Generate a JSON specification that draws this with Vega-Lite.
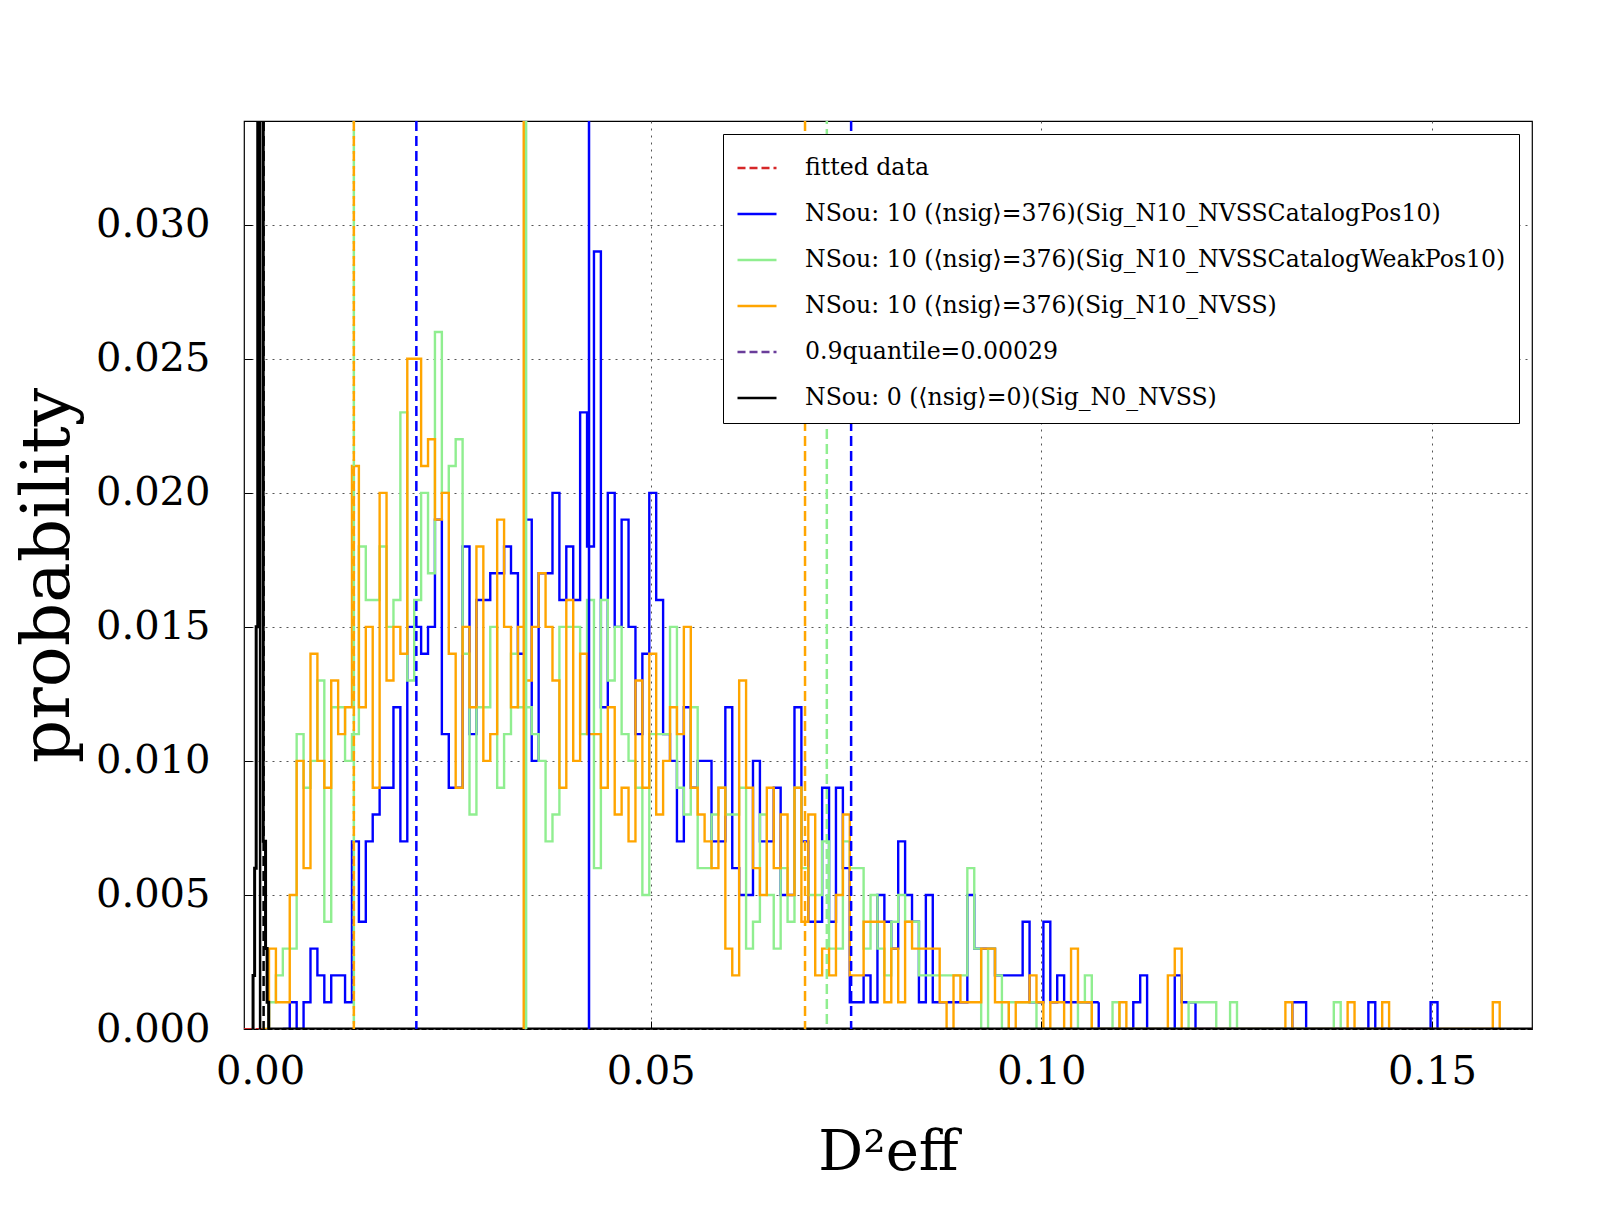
{
"$schema":"https://vega.github.io/schema/vega-lite/v6.json",
"width":1288,"height":908,
"autosize":{"type":"none"},
"padding":{"left":244,"top":121,"right":80,"bottom":183},
"background":"white",
"datasets":{
"hist":[
{"s":"f","x":-0.0021,"y":0},{"s":"f","x":0.1628,"y":0},
{"s":"b","x":0.00291,"y":0},{"s":"b","x":0.003795,"y":0.001},{"s":"b","x":0.00468,"y":0},{"s":"b","x":0.005565,"y":0.001},{"s":"b","x":0.00645,"y":0.003},{"s":"b","x":0.007335,"y":0.002},{"s":"b","x":0.00822,"y":0.001},{"s":"b","x":0.009105,"y":0.002},{"s":"b","x":0.00999,"y":0.002},{"s":"b","x":0.010875,"y":0.001},{"s":"b","x":0.01176,"y":0.007},{"s":"b","x":0.012645,"y":0.004},{"s":"b","x":0.01353,"y":0.007},{"s":"b","x":0.014415,"y":0.008},{"s":"b","x":0.0153,"y":0.009},{"s":"b","x":0.016185,"y":0.009},{"s":"b","x":0.01707,"y":0.012},{"s":"b","x":0.017955,"y":0.007},{"s":"b","x":0.01884,"y":0.015},{"s":"b","x":0.019725,"y":0.015},{"s":"b","x":0.02061,"y":0.014},{"s":"b","x":0.021495,"y":0.015},{"s":"b","x":0.02238,"y":0.019},{"s":"b","x":0.023265,"y":0.011},{"s":"b","x":0.02415,"y":0.009},{"s":"b","x":0.025035,"y":0.009},{"s":"b","x":0.02592,"y":0.018},{"s":"b","x":0.026805,"y":0.011},{"s":"b","x":0.02769,"y":0.016},{"s":"b","x":0.028575,"y":0.016},{"s":"b","x":0.02946,"y":0.017},{"s":"b","x":0.030345,"y":0.017},{"s":"b","x":0.03123,"y":0.018},{"s":"b","x":0.032115,"y":0.017},{"s":"b","x":0.033,"y":0.014},{"s":"b","x":0.033885,"y":0.019},{"s":"b","x":0.03477,"y":0.010},{"s":"b","x":0.035655,"y":0.017},{"s":"b","x":0.03654,"y":0.017},{"s":"b","x":0.037425,"y":0.020},{"s":"b","x":0.03831,"y":0.016},{"s":"b","x":0.039195,"y":0.018},{"s":"b","x":0.04008,"y":0.016},{"s":"b","x":0.040965,"y":0.023},{"s":"b","x":0.04185,"y":0.018},{"s":"b","x":0.042735,"y":0.029},{"s":"b","x":0.04362,"y":0.012},{"s":"b","x":0.044505,"y":0.020},{"s":"b","x":0.04539,"y":0.015},{"s":"b","x":0.046275,"y":0.019},{"s":"b","x":0.04716,"y":0.015},{"s":"b","x":0.048045,"y":0.011},{"s":"b","x":0.04893,"y":0.014},{"s":"b","x":0.049815,"y":0.020},{"s":"b","x":0.0507,"y":0.016},{"s":"b","x":0.051585,"y":0.011},{"s":"b","x":0.05247,"y":0.010},{"s":"b","x":0.053355,"y":0.007},{"s":"b","x":0.05424,"y":0.012},{"s":"b","x":0.055125,"y":0.009},{"s":"b","x":0.05601,"y":0.010},{"s":"b","x":0.056895,"y":0.010},{"s":"b","x":0.05778,"y":0.007},{"s":"b","x":0.058665,"y":0.007},{"s":"b","x":0.05955,"y":0.012},{"s":"b","x":0.060435,"y":0.006},{"s":"b","x":0.06132,"y":0.005},{"s":"b","x":0.062205,"y":0.005},{"s":"b","x":0.06309,"y":0.010},{"s":"b","x":0.063975,"y":0.007},{"s":"b","x":0.06486,"y":0.007},{"s":"b","x":0.065745,"y":0.009},{"s":"b","x":0.06663,"y":0.005},{"s":"b","x":0.067515,"y":0.005},{"s":"b","x":0.0684,"y":0.012},{"s":"b","x":0.069285,"y":0.007},{"s":"b","x":0.07017,"y":0.004},{"s":"b","x":0.071055,"y":0.004},{"s":"b","x":0.07194,"y":0.009},{"s":"b","x":0.072825,"y":0.004},{"s":"b","x":0.07371,"y":0.009},{"s":"b","x":0.074595,"y":0.006},{"s":"b","x":0.07548,"y":0.001},{"s":"b","x":0.076365,"y":0.001},{"s":"b","x":0.07725,"y":0.002},{"s":"b","x":0.078135,"y":0.001},{"s":"b","x":0.07902,"y":0.005},{"s":"b","x":0.079905,"y":0.004},{"s":"b","x":0.08079,"y":0.003},{"s":"b","x":0.081675,"y":0.007},{"s":"b","x":0.08256,"y":0.005},{"s":"b","x":0.083445,"y":0.004},{"s":"b","x":0.08433,"y":0.001},{"s":"b","x":0.085215,"y":0.005},{"s":"b","x":0.0861,"y":0.001},{"s":"b","x":0.086985,"y":0.001},{"s":"b","x":0.08787,"y":0.001},{"s":"b","x":0.088755,"y":0.001},{"s":"b","x":0.08964,"y":0.001},{"s":"b","x":0.090525,"y":0.005},{"s":"b","x":0.09141,"y":0.003},{"s":"b","x":0.092295,"y":0.003},{"s":"b","x":0.09318,"y":0.003},{"s":"b","x":0.094065,"y":0.002},{"s":"b","x":0.09495,"y":0.002},{"s":"b","x":0.095835,"y":0.002},{"s":"b","x":0.09672,"y":0.002},{"s":"b","x":0.097605,"y":0.004},{"s":"b","x":0.09849,"y":0.001},{"s":"b","x":0.099375,"y":0.001},{"s":"b","x":0.10026,"y":0.004},{"s":"b","x":0.101145,"y":0.001},{"s":"b","x":0.10203,"y":0.002},{"s":"b","x":0.102915,"y":0.001},{"s":"b","x":0.1038,"y":0.001},{"s":"b","x":0.104685,"y":0.001},{"s":"b","x":0.10557,"y":0.001},{"s":"b","x":0.106455,"y":0.001},{"s":"b","x":0.10734,"y":0},{"s":"b","x":0.111765,"y":0.001},{"s":"b","x":0.11265,"y":0.002},{"s":"b","x":0.113535,"y":0},{"s":"b","x":0.117075,"y":0.002},{"s":"b","x":0.11796,"y":0.001},{"s":"b","x":0.118845,"y":0.001},{"s":"b","x":0.11973,"y":0},{"s":"b","x":0.13212,"y":0.001},{"s":"b","x":0.133005,"y":0.001},{"s":"b","x":0.13389,"y":0},{"s":"b","x":0.141855,"y":0.001},{"s":"b","x":0.14274,"y":0},{"s":"b","x":0.14982,"y":0.001},{"s":"b","x":0.150705,"y":0},
{"s":"g","x":0.000255,"y":0},{"s":"g","x":0.00114,"y":0.001},{"s":"g","x":0.002025,"y":0.002},{"s":"g","x":0.00291,"y":0.003},{"s":"g","x":0.003795,"y":0.003},{"s":"g","x":0.00468,"y":0.011},{"s":"g","x":0.005565,"y":0.009},{"s":"g","x":0.00645,"y":0.010},{"s":"g","x":0.007335,"y":0.013},{"s":"g","x":0.00822,"y":0.004},{"s":"g","x":0.009105,"y":0.012},{"s":"g","x":0.00999,"y":0.012},{"s":"g","x":0.010875,"y":0.010},{"s":"g","x":0.01176,"y":0.011},{"s":"g","x":0.012645,"y":0.018},{"s":"g","x":0.01353,"y":0.016},{"s":"g","x":0.014415,"y":0.016},{"s":"g","x":0.0153,"y":0.018},{"s":"g","x":0.016185,"y":0.015},{"s":"g","x":0.01707,"y":0.016},{"s":"g","x":0.017955,"y":0.023},{"s":"g","x":0.01884,"y":0.013},{"s":"g","x":0.019725,"y":0.016},{"s":"g","x":0.02061,"y":0.020},{"s":"g","x":0.021495,"y":0.017},{"s":"g","x":0.02238,"y":0.026},{"s":"g","x":0.023265,"y":0.020},{"s":"g","x":0.02415,"y":0.021},{"s":"g","x":0.025035,"y":0.022},{"s":"g","x":0.02592,"y":0.014},{"s":"g","x":0.026805,"y":0.008},{"s":"g","x":0.02769,"y":0.012},{"s":"g","x":0.028575,"y":0.012},{"s":"g","x":0.02946,"y":0.015},{"s":"g","x":0.030345,"y":0.009},{"s":"g","x":0.03123,"y":0.011},{"s":"g","x":0.032115,"y":0.014},{"s":"g","x":0.033,"y":0.012},{"s":"g","x":0.033885,"y":0.012},{"s":"g","x":0.03477,"y":0.011},{"s":"g","x":0.035655,"y":0.010},{"s":"g","x":0.03654,"y":0.007},{"s":"g","x":0.037425,"y":0.008},{"s":"g","x":0.03831,"y":0.015},{"s":"g","x":0.039195,"y":0.015},{"s":"g","x":0.04008,"y":0.015},{"s":"g","x":0.040965,"y":0.011},{"s":"g","x":0.04185,"y":0.016},{"s":"g","x":0.042735,"y":0.006},{"s":"g","x":0.04362,"y":0.016},{"s":"g","x":0.044505,"y":0.013},{"s":"g","x":0.04539,"y":0.015},{"s":"g","x":0.046275,"y":0.011},{"s":"g","x":0.04716,"y":0.010},{"s":"g","x":0.048045,"y":0.009},{"s":"g","x":0.04893,"y":0.005},{"s":"g","x":0.049815,"y":0.011},{"s":"g","x":0.0507,"y":0.011},{"s":"g","x":0.051585,"y":0.011},{"s":"g","x":0.05247,"y":0.015},{"s":"g","x":0.053355,"y":0.009},{"s":"g","x":0.05424,"y":0.008},{"s":"g","x":0.055125,"y":0.012},{"s":"g","x":0.05601,"y":0.006},{"s":"g","x":0.056895,"y":0.006},{"s":"g","x":0.05778,"y":0.008},{"s":"g","x":0.058665,"y":0.009},{"s":"g","x":0.05955,"y":0.008},{"s":"g","x":0.060435,"y":0.008},{"s":"g","x":0.06132,"y":0.009},{"s":"g","x":0.062205,"y":0.003},{"s":"g","x":0.06309,"y":0.004},{"s":"g","x":0.063975,"y":0.008},{"s":"g","x":0.06486,"y":0.005},{"s":"g","x":0.065745,"y":0.003},{"s":"g","x":0.06663,"y":0.006},{"s":"g","x":0.067515,"y":0.004},{"s":"g","x":0.0684,"y":0.009},{"s":"g","x":0.069285,"y":0.006},{"s":"g","x":0.07017,"y":0.005},{"s":"g","x":0.071055,"y":0.005},{"s":"g","x":0.07194,"y":0.007},{"s":"g","x":0.072825,"y":0.003},{"s":"g","x":0.07371,"y":0.003},{"s":"g","x":0.074595,"y":0.007},{"s":"g","x":0.07548,"y":0.006},{"s":"g","x":0.076365,"y":0.006},{"s":"g","x":0.07725,"y":0.003},{"s":"g","x":0.078135,"y":0.005},{"s":"g","x":0.07902,"y":0.003},{"s":"g","x":0.079905,"y":0.002},{"s":"g","x":0.08079,"y":0.004},{"s":"g","x":0.081675,"y":0.005},{"s":"g","x":0.08256,"y":0.004},{"s":"g","x":0.083445,"y":0.004},{"s":"g","x":0.08433,"y":0.002},{"s":"g","x":0.085215,"y":0.002},{"s":"g","x":0.0861,"y":0.002},{"s":"g","x":0.086985,"y":0.002},{"s":"g","x":0.08787,"y":0.002},{"s":"g","x":0.088755,"y":0.002},{"s":"g","x":0.08964,"y":0.002},{"s":"g","x":0.090525,"y":0.006},{"s":"g","x":0.09141,"y":0.003},{"s":"g","x":0.092295,"y":0},{"s":"g","x":0.09318,"y":0.003},{"s":"g","x":0.094065,"y":0.002},{"s":"g","x":0.09495,"y":0},{"s":"g","x":0.095835,"y":0.001},{"s":"g","x":0.09672,"y":0.001},{"s":"g","x":0.097605,"y":0.001},{"s":"g","x":0.09849,"y":0.001},{"s":"g","x":0.099375,"y":0},{"s":"g","x":0.104685,"y":0.001},{"s":"g","x":0.10557,"y":0.002},{"s":"g","x":0.106455,"y":0},{"s":"g","x":0.10911,"y":0.001},{"s":"g","x":0.109995,"y":0},{"s":"g","x":0.118845,"y":0.001},{"s":"g","x":0.11973,"y":0.001},{"s":"g","x":0.120615,"y":0.001},{"s":"g","x":0.1215,"y":0.001},{"s":"g","x":0.122385,"y":0},{"s":"g","x":0.124155,"y":0.001},{"s":"g","x":0.12504,"y":0},{"s":"g","x":0.13743,"y":0.001},{"s":"g","x":0.138315,"y":0},
{"s":"o","x":0.000255,"y":0},{"s":"o","x":0.00114,"y":0.003},{"s":"o","x":0.002025,"y":0.001},{"s":"o","x":0.00291,"y":0.001},{"s":"o","x":0.003795,"y":0.005},{"s":"o","x":0.00468,"y":0.010},{"s":"o","x":0.005565,"y":0.006},{"s":"o","x":0.00645,"y":0.014},{"s":"o","x":0.007335,"y":0.010},{"s":"o","x":0.00822,"y":0.009},{"s":"o","x":0.009105,"y":0.013},{"s":"o","x":0.00999,"y":0.011},{"s":"o","x":0.010875,"y":0.012},{"s":"o","x":0.01176,"y":0.021},{"s":"o","x":0.012645,"y":0.012},{"s":"o","x":0.01353,"y":0.015},{"s":"o","x":0.014415,"y":0.009},{"s":"o","x":0.0153,"y":0.020},{"s":"o","x":0.016185,"y":0.013},{"s":"o","x":0.01707,"y":0.015},{"s":"o","x":0.017955,"y":0.014},{"s":"o","x":0.01884,"y":0.025},{"s":"o","x":0.019725,"y":0.025},{"s":"o","x":0.02061,"y":0.021},{"s":"o","x":0.021495,"y":0.022},{"s":"o","x":0.02238,"y":0.019},{"s":"o","x":0.023265,"y":0.020},{"s":"o","x":0.02415,"y":0.014},{"s":"o","x":0.025035,"y":0.009},{"s":"o","x":0.02592,"y":0.015},{"s":"o","x":0.026805,"y":0.012},{"s":"o","x":0.02769,"y":0.018},{"s":"o","x":0.028575,"y":0.010},{"s":"o","x":0.02946,"y":0.011},{"s":"o","x":0.030345,"y":0.019},{"s":"o","x":0.03123,"y":0.015},{"s":"o","x":0.032115,"y":0.012},{"s":"o","x":0.033,"y":0.015},{"s":"o","x":0.033885,"y":0.013},{"s":"o","x":0.03477,"y":0.015},{"s":"o","x":0.035655,"y":0.017},{"s":"o","x":0.03654,"y":0.015},{"s":"o","x":0.037425,"y":0.013},{"s":"o","x":0.03831,"y":0.009},{"s":"o","x":0.039195,"y":0.016},{"s":"o","x":0.04008,"y":0.010},{"s":"o","x":0.040965,"y":0.014},{"s":"o","x":0.04185,"y":0.011},{"s":"o","x":0.042735,"y":0.011},{"s":"o","x":0.04362,"y":0.009},{"s":"o","x":0.044505,"y":0.012},{"s":"o","x":0.04539,"y":0.008},{"s":"o","x":0.046275,"y":0.009},{"s":"o","x":0.04716,"y":0.007},{"s":"o","x":0.048045,"y":0.013},{"s":"o","x":0.04893,"y":0.009},{"s":"o","x":0.049815,"y":0.014},{"s":"o","x":0.0507,"y":0.008},{"s":"o","x":0.051585,"y":0.010},{"s":"o","x":0.05247,"y":0.012},{"s":"o","x":0.053355,"y":0.011},{"s":"o","x":0.05424,"y":0.015},{"s":"o","x":0.055125,"y":0.009},{"s":"o","x":0.05601,"y":0.008},{"s":"o","x":0.056895,"y":0.007},{"s":"o","x":0.05778,"y":0.006},{"s":"o","x":0.058665,"y":0.009},{"s":"o","x":0.05955,"y":0.003},{"s":"o","x":0.060435,"y":0.002},{"s":"o","x":0.06132,"y":0.013},{"s":"o","x":0.062205,"y":0.009},{"s":"o","x":0.06309,"y":0.006},{"s":"o","x":0.063975,"y":0.005},{"s":"o","x":0.06486,"y":0.009},{"s":"o","x":0.065745,"y":0.006},{"s":"o","x":0.06663,"y":0.008},{"s":"o","x":0.067515,"y":0.005},{"s":"o","x":0.0684,"y":0.009},{"s":"o","x":0.069285,"y":0.004},{"s":"o","x":0.07017,"y":0.008},{"s":"o","x":0.071055,"y":0.002},{"s":"o","x":0.07194,"y":0.003},{"s":"o","x":0.072825,"y":0.002},{"s":"o","x":0.07371,"y":0.005},{"s":"o","x":0.074595,"y":0.008},{"s":"o","x":0.07548,"y":0.002},{"s":"o","x":0.076365,"y":0.002},{"s":"o","x":0.07725,"y":0.004},{"s":"o","x":0.078135,"y":0.004},{"s":"o","x":0.07902,"y":0.004},{"s":"o","x":0.079905,"y":0.001},{"s":"o","x":0.08079,"y":0.003},{"s":"o","x":0.081675,"y":0.001},{"s":"o","x":0.08256,"y":0.004},{"s":"o","x":0.083445,"y":0.003},{"s":"o","x":0.08433,"y":0.003},{"s":"o","x":0.085215,"y":0.003},{"s":"o","x":0.0861,"y":0.003},{"s":"o","x":0.086985,"y":0.001},{"s":"o","x":0.08787,"y":0},{"s":"o","x":0.088755,"y":0.002},{"s":"o","x":0.08964,"y":0.001},{"s":"o","x":0.090525,"y":0.001},{"s":"o","x":0.09141,"y":0.001},{"s":"o","x":0.092295,"y":0.003},{"s":"o","x":0.09318,"y":0.003},{"s":"o","x":0.094065,"y":0.001},{"s":"o","x":0.09495,"y":0.001},{"s":"o","x":0.095835,"y":0},{"s":"o","x":0.09672,"y":0.001},{"s":"o","x":0.097605,"y":0.001},{"s":"o","x":0.09849,"y":0.002},{"s":"o","x":0.099375,"y":0.001},{"s":"o","x":0.10026,"y":0},{"s":"o","x":0.101145,"y":0.001},{"s":"o","x":0.10203,"y":0.001},{"s":"o","x":0.102915,"y":0},{"s":"o","x":0.1038,"y":0.003},{"s":"o","x":0.104685,"y":0.001},{"s":"o","x":0.10557,"y":0.001},{"s":"o","x":0.106455,"y":0},{"s":"o","x":0.109995,"y":0.001},{"s":"o","x":0.11088,"y":0},{"s":"o","x":0.11619,"y":0.002},{"s":"o","x":0.117075,"y":0.003},{"s":"o","x":0.11796,"y":0},{"s":"o","x":0.131235,"y":0.001},{"s":"o","x":0.13212,"y":0},{"s":"o","x":0.1392,"y":0.001},{"s":"o","x":0.140085,"y":0},{"s":"o","x":0.143625,"y":0.001},{"s":"o","x":0.14451,"y":0},{"s":"o","x":0.15778,"y":0.001},{"s":"o","x":0.158665,"y":0},
{"s":"k","x":-0.0011,"y":0},{"s":"k","x":-0.0009,"y":0.002},{"s":"k","x":-0.0007,"y":0.006},{"s":"k","x":-0.0005,"y":0.015},{"s":"k","x":-0.0003,"y":0.4},{"s":"k","x":0.0004,"y":0.007},{"s":"k","x":0.0007,"y":0.003},{"s":"k","x":0.0009,"y":0.001},{"s":"k","x":0.0011,"y":0},{"s":"k","x":0.1628,"y":0}
],
"solid":[{"s":"o","x":0.03375},{"s":"g","x":0.03405},{"s":"b","x":0.0421},{"s":"k","x":0.0}],
"dashed":[{"s":"o","x":0.012},{"s":"b","x":0.02},{"s":"o","x":0.06975},{"s":"b","x":0.07565},{"s":"k","x":0.00045}],
"dashedg":[{"s":"g","x":0.012},{"s":"g","x":0.07254}]
},
"encoding":{
"x":{"field":"x","type":"quantitative","scale":{"domain":[-0.00206,0.1628],"nice":false,"zero":false},
"axis":{"values":[0,0.05,0.1,0.15],"format":".2f","title":"D²eff","titleFontSize":56,"titlePadding":34}},
"color":{"field":"s","type":"nominal","scale":{"domain":["f","b","g","o","q","k"],"range":["#d62728","#0000ff","#90ee90","#ffa500","#6a3d9a","#000000"]},
"legend":{"title":null,"labelExpr":"datum.label==='f'?'fitted data':datum.label==='b'?'NSou: 10 (⟨nsig⟩=376)(Sig_N10_NVSSCatalogPos10)':datum.label==='g'?'NSou: 10 (⟨nsig⟩=376)(Sig_N10_NVSSCatalogWeakPos10)':datum.label==='o'?'NSou: 10 (⟨nsig⟩=376)(Sig_N10_NVSS)':datum.label==='q'?'0.9quantile=0.00029':'NSou: 0 (⟨nsig⟩=0)(Sig_N0_NVSS)'"}}
},
"layer":[
{"data":{"name":"hist"},"transform":[{"filter":"datum.s==='f'"}],"mark":{"type":"line","interpolate":"step-after","strokeWidth":2,"clip":true},
"encoding":{"y":{"field":"y","type":"quantitative","scale":{"domain":[0,0.03387],"nice":false},"axis":{"values":[0,0.005,0.01,0.015,0.02,0.025,0.03],"format":".3f","title":"probability","titleFontSize":68,"titlePadding":13}},
"strokeDash":{"field":"s","type":"nominal","scale":{"domain":["f","b","g","o","q","k"],"range":[[8,4],[1,0],[1,0],[1,0],[8,4],[1,0]]}}}},
{"data":{"name":"hist"},"transform":[{"filter":"datum.s==='b'"}],"mark":{"type":"line","interpolate":"step-after","strokeWidth":2.4,"clip":true},
"encoding":{"y":{"field":"y","type":"quantitative"},"strokeDash":{"field":"s","type":"nominal"}}},
{"data":{"name":"hist"},"transform":[{"filter":"datum.s==='g'"}],"mark":{"type":"line","interpolate":"step-after","strokeWidth":2.4,"clip":true},
"encoding":{"y":{"field":"y","type":"quantitative"},"strokeDash":{"field":"s","type":"nominal"}}},
{"data":{"name":"hist"},"transform":[{"filter":"datum.s==='o'"}],"mark":{"type":"line","interpolate":"step-after","strokeWidth":2.4,"clip":true},
"encoding":{"y":{"field":"y","type":"quantitative"},"strokeDash":{"field":"s","type":"nominal"}}},
{"data":{"name":"hist"},"transform":[{"filter":"datum.s==='k'"}],"mark":{"type":"line","interpolate":"step-after","strokeWidth":3,"clip":true},
"encoding":{"y":{"field":"y","type":"quantitative"},"strokeDash":{"field":"s","type":"nominal"}}},
{"data":{"name":"dashedg"},"mark":{"type":"rule","strokeWidth":2.5,"strokeDash":[10,5],"strokeDashOffset":7,"clip":true}},
{"data":{"name":"dashed"},"mark":{"type":"rule","strokeWidth":2.5,"strokeDash":[10,5],"clip":true}},
{"data":{"name":"solid"},"mark":{"type":"rule","strokeWidth":2.5,"clip":true}}
],
"config":{
"view":{"stroke":"black","strokeWidth":1.2},
"axis":{"labelFont":"DejaVu Serif","labelFontSize":40,"labelColor":"black","titleFont":"DejaVu Serif","titleColor":"black","titleFontWeight":"normal","domain":false,"grid":true,"gridColor":"#555555","gridDash":[2,5],"gridWidth":1,"tickColor":"black","tickSize":-8,"tickWidth":1},
"axisX":{"labelPadding":30},
"axisY":{"labelPadding":42},
"legend":{"orient":"top-right","offset":13,"labelFont":"DejaVu Serif","labelFontSize":23.6,"labelColor":"black","labelLimit":1000,"symbolType":"stroke","symbolSize":1521,"symbolStrokeWidth":2.5,"rowPadding":13,"padding":13,"strokeColor":"black","fillColor":"white","cornerRadius":0,"labelOffset":27}
}
}
